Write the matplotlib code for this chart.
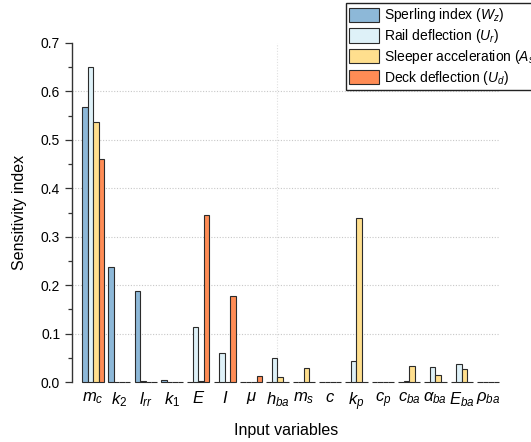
import numpy as np
import matplotlib
matplotlib.use("Agg")
import matplotlib.pyplot as plt

plt.rcParams['font.family'] = ['Liberation Sans', 'DejaVu Sans']
plt.rcParams['mathtext.fontset'] = 'custom'
plt.rcParams['mathtext.rm'] = 'Liberation Sans'
plt.rcParams['mathtext.it'] = 'Liberation Sans:italic'
plt.rcParams['mathtext.bf'] = 'Liberation Sans:bold'

# data
variables = [r'$m_c$', r'$k_2$', r'$l_{rr}$', r'$k_1$', r'$E$', r'$I$', r'$\mu$', r'$h_{ba}$',
             r'$m_s$', r'$c$', r'$k_p$', r'$c_p$', r'$c_{ba}$', r'$\alpha_{ba}$', r'$E_{ba}$', r'$\rho_{ba}$']
sperling = [0.568, 0.237, 0.187, 0.005, 0.000, 0.000, 0.001, 0.000,
            0.000, 0.000, 0.000, 0.000, 0.001, 0.000, 0.000, 0.000]
rail_defl = [0.651, 0.001, 0.002, 0.001, 0.114, 0.059, 0.001, 0.049,
             0.001, 0.000, 0.044, 0.000, 0.003, 0.030, 0.037, 0.000]
sleeper_acc = [0.536, 0.000, 0.000, 0.000, 0.002, 0.000, 0.001, 0.010,
               0.028, 0.000, 0.338, 0.000, 0.034, 0.014, 0.027, 0.001]
deck_defl = [0.460, 0.000, 0.000, 0.000, 0.345, 0.178, 0.012, 0.000,
             0.000, 0.000, 0.000, 0.000, 0.000, 0.000, 0.000, 0.000]
series_labels = [r'Sperling index ($W_z$)', r'Rail deflection ($U_r$)',
                 r'Sleeper acceleration ($A_s$)', r'Deck deflection ($U_d$)']
colors = ['#8db8d8', '#def1f8', '#ffdf8e', '#ff8c55']

fig = plt.figure(figsize=(5.31, 4.42), dpi=100)
ax = fig.add_axes([72/531, 1-382/442, (500-72)/531, (382-43)/442])

x = np.arange(len(variables))
w = 0.21
offsets = [-1.5*w, -0.5*w, 0.5*w, 1.5*w]
for vals, off, col, lab in zip([sperling, rail_defl, sleeper_acc, deck_defl], offsets, colors, series_labels):
    ax.bar(x + off, vals, width=w, color=col, edgecolor='#2b2b2b', linewidth=0.8,
           label=lab, zorder=3, clip_on=False)

ax.set_xlim(-0.8, 15.45)
ax.set_ylim(0, 0.7)
ax.set_yticks(np.arange(0, 0.71, 0.1))
ax.set_yticks(np.arange(0.05, 0.7, 0.1), minor=True)
ax.set_yticklabels(['%.1f' % v for v in np.arange(0, 0.71, 0.1)])
ax.set_xticks(x)
ax.set_xticklabels(variables, fontsize=12)
ax.tick_params(axis='x', length=0, pad=6)
ax.tick_params(axis='y', which='major', length=5, width=0.9, direction='out', labelsize=10, color='#333333')
ax.tick_params(axis='y', which='minor', length=3, width=0.9, direction='out', color='#333333')

for s in ['top', 'right', 'bottom']:
    ax.spines[s].set_visible(False)
ax.spines['left'].set_color('#333333')
ax.spines['left'].set_linewidth(1.0)

# dotted grid
ax.hlines(np.arange(0.1, 0.61, 0.1), -0.8, 15.45, colors='#c8c8c8', linestyles=(0, (1, 1.5)), linewidth=0.8, zorder=0)
ax.axvline(7, color='#e0e0e0', linestyle=(0, (1, 1.5)), linewidth=0.8, zorder=0)

ax.set_xlabel('Input variables', fontsize=11.5, labelpad=7)
ax.set_ylabel('Sensitivity index', fontsize=11.5, labelpad=10)

leg = fig.legend(loc='upper left', bbox_to_anchor=(346/531, 1-3/442), bbox_transform=fig.transFigure,
                 fontsize=10, frameon=True, fancybox=False, framealpha=1, edgecolor='#222222',
                 handlelength=2.1, handleheight=1.2, handletextpad=0.35, labelspacing=0.2,
                 borderpad=0.25, borderaxespad=0)
leg.get_frame().set_linewidth(1.0)

fig.savefig('out.png', dpi=100, facecolor='white')
